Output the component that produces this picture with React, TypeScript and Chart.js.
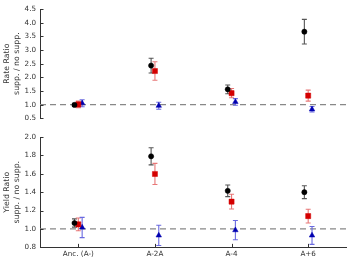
import { useEffect, useRef } from 'react';
import { Chart, registerables } from 'chart.js';
Chart.register(...registerables);

const categories = ['Anc. (A-)', 'A-2A', 'A-4', 'A+6'];
const rateTicks = [0.5, 1.0, 1.5, 2.0, 2.5, 3.0, 3.5, 4.0, 4.5];
const yieldTicks = [0.8, 1.0, 1.2, 1.4, 1.6, 1.8, 2.0];

const rateBlack = [0.99, 2.43, 1.56, 3.67];
const rateBlackErr = [0.06, 0.27, 0.16, 0.45];
const rateRed = [1.01, 2.23, 1.42, 1.33];
const rateRedErr = [0.12, 0.34, 0.17, 0.2];
const rateBlue = [1.05, 0.96, 1.1, 0.83];
const rateBlueErr = [0.13, 0.13, 0.12, 0.1];

const yieldBlack = [1.065, 1.79, 1.415, 1.4];
const yieldBlackErr = [0.045, 0.093, 0.063, 0.07];
const yieldRed = [1.05, 1.598, 1.297, 1.14];
const yieldRedErr = [0.07, 0.115, 0.08, 0.075];
const yieldBlue = [1.016, 0.93, 0.987, 0.93];
const yieldBlueErr = [0.11, 0.11, 0.105, 0.097];

const FONT = 'DejaVu Sans';
const TEXT = '#333';
const OFFSETS = [-0.05, 0, 0.05];

const errorBarPlugin = {
  id: 'errorBars',
  beforeDatasetsDraw(chart: any) {
    const ctx = chart.ctx;
    const yScale = chart.scales.y;
    const yRef = yScale.getPixelForValue(1.0);
    ctx.save();
    ctx.strokeStyle = '#888';
    ctx.lineWidth = 1.3;
    ctx.setLineDash([6, 4]);
    ctx.beginPath();
    ctx.moveTo(chart.chartArea.left, yRef);
    ctx.lineTo(chart.chartArea.right, yRef);
    ctx.stroke();
    ctx.setLineDash([]);
    chart.data.datasets.forEach((ds: any, i: number) => {
      const meta = chart.getDatasetMeta(i);
      ctx.strokeStyle = ds.errColor;
      ctx.lineWidth = 1.1;
      meta.data.forEach((pt: any, j: number) => {
        const v = ds.data[j].y;
        const e = ds.errors[j];
        const y1 = yScale.getPixelForValue(v + e);
        const y2 = yScale.getPixelForValue(v - e);
        const x = pt.x;
        ctx.beginPath();
        ctx.moveTo(x, y1);
        ctx.lineTo(x, y2);
        ctx.moveTo(x - 2.5, y1);
        ctx.lineTo(x + 2.5, y1);
        ctx.moveTo(x - 2.5, y2);
        ctx.lineTo(x + 2.5, y2);
        ctx.stroke();
      });
    });
    ctx.restore();
  },
};

const inwardTicksPlugin = {
  id: 'inwardTicks',
  afterDraw(chart: any) {
    const ctx = chart.ctx;
    ctx.save();
    ctx.strokeStyle = TEXT;
    ctx.lineWidth = 1;
    const ys = chart.scales.y;
    ys.ticks.forEach((t: any) => {
      const y = Math.round(ys.getPixelForValue(t.value)) + 0.5;
      ctx.beginPath();
      ctx.moveTo(ys.right, y);
      ctx.lineTo(ys.right + 3.5, y);
      ctx.stroke();
    });
    const xs = chart.scales.x;
    if (xs.options.display) {
      xs.ticks.forEach((t: any) => {
        const x = Math.round(xs.getPixelForValue(t.value)) + 0.5;
        ctx.beginPath();
        ctx.moveTo(x, xs.top);
        ctx.lineTo(x, xs.top - 3.5);
        ctx.stroke();
      });
    }
    ctx.restore();
  },
};

function makeDatasets(vals: number[][], errs: number[][]) {
  const styles = [
    { pointStyle: 'circle', radius: 2.6, color: '#000000', errColor: '#555555' },
    { pointStyle: 'rect', radius: 3.6, color: '#d40000', errColor: '#e87878' },
    { pointStyle: 'triangle', radius: 3.2, color: '#0000b0', errColor: '#6a6ae0' },
  ];
  return vals.map((v, s) => ({
    data: v.map((y, i) => ({ x: i + OFFSETS[s], y })),
    errors: errs[s],
    errColor: styles[s].errColor,
    pointStyle: styles[s].pointStyle,
    pointRadius: styles[s].radius,
    backgroundColor: styles[s].color,
    borderColor: styles[s].color,
    borderWidth: 0.5,
    showLine: false,
  }));
}

function makeConfig(
  vals: number[][],
  errs: number[][],
  ticks: number[],
  title: string,
  showX: boolean,
): any {
  const font = { family: FONT, size: 7.2 };
  return {
    type: 'scatter',
    data: { datasets: makeDatasets(vals, errs) },
    plugins: [errorBarPlugin, inwardTicksPlugin],
    options: {
      animation: false,
      responsive: false,
      events: [],
      layout: { padding: { left: 0, right: 6.5, top: 9, bottom: showX ? 6 : 9.7 } },
      plugins: { legend: { display: false }, tooltip: { enabled: false } },
      scales: {
        x: {
          type: 'linear',
          min: -0.5,
          max: 3.5,
          display: showX,
          grid: { display: false, drawTicks: false },
          border: { display: true, color: TEXT, width: 1 },
          ticks: {
            font,
            color: TEXT,
            padding: 2,
            maxRotation: 0,
            autoSkip: false,
            callback: (v: number) => categories[v] ?? '',
          },
          afterBuildTicks: (s: any) => {
            s.ticks = categories.map((_, i) => ({ value: i }));
          },
        },
        y: {
          type: 'linear',
          min: ticks[0],
          max: ticks[ticks.length - 1],
          grid: { display: false, drawTicks: false },
          border: { display: true, color: TEXT, width: 1 },
          ticks: {
            font,
            color: TEXT,
            padding: 4,
            callback: (v: number) => v.toFixed(1),
          },
          afterBuildTicks: (s: any) => {
            s.ticks = ticks.map((v) => ({ value: v }));
          },
          afterFit: (s: any) => {
            s.width = 40;
          },
          title: {
            display: true,
            text: [title, 'supp. / no supp.'],
            color: TEXT,
            font: { family: FONT, size: 7.8, lineHeight: 1.3 },
            padding: { top: 2, bottom: 0 },
          },
        },
      },
    },
  };
}

export default function App() {
  const topRef = useRef<HTMLCanvasElement>(null);
  const botRef = useRef<HTMLCanvasElement>(null);

  useEffect(() => {
    const top = new Chart(
      topRef.current as HTMLCanvasElement,
      makeConfig(
        [rateBlack, rateRed, rateBlue],
        [rateBlackErr, rateRedErr, rateBlueErr],
        rateTicks,
        'Rate Ratio',
        false,
      ),
    );
    const bot = new Chart(
      botRef.current as HTMLCanvasElement,
      makeConfig(
        [yieldBlack, yieldRed, yieldBlue],
        [yieldBlackErr, yieldRedErr, yieldBlueErr],
        yieldTicks,
        'Yield Ratio',
        true,
      ),
    );
    return () => {
      top.destroy();
      bot.destroy();
    };
  }, []);

  return (
    <div style={{ position: 'fixed', left: 0, top: 0, width: 353, height: 266, background: '#fff' }}>
      <canvas
        ref={topRef}
        width={353}
        height={128}
        style={{ position: 'absolute', left: 0, top: 0, width: 353, height: 128 }}
      />
      <canvas
        ref={botRef}
        width={353}
        height={138}
        style={{ position: 'absolute', left: 0, top: 128, width: 353, height: 138 }}
      />
    </div>
  );
}
